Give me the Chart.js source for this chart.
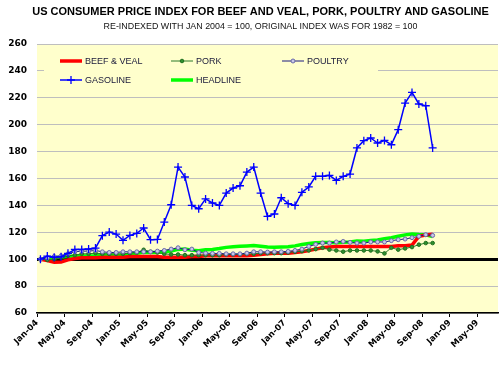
<!DOCTYPE html>
<html>
<head>
<meta charset="utf-8">
<script src="https://cdn.jsdelivr.net/npm/chart.js@4.4.0/dist/chart.umd.min.js"></script>
<style>
  body { margin: 0; background: #fff; }
  #chart { display: block; }
</style>
</head>
<body>
<canvas id="chart" width="504" height="365"></canvas>
<script>
const chartTitle = 'US CONSUMER PRICE INDEX FOR BEEF AND VEAL, PORK, POULTRY AND GASOLINE'
const chartSubtitle = 'RE-INDEXED WITH JAN 2004 = 100, ORIGINAL INDEX WAS FOR 1982 = 100'

// axis months, Jan-04 .. Aug-09
const monthNames = ['Jan', 'Feb', 'Mar', 'Apr', 'May', 'Jun', 'Jul', 'Aug', 'Sep', 'Oct', 'Nov', 'Dec']
const axisMonths = []
for (let i = 0; i < 68; i++) {
  axisMonths.push(monthNames[i % 12] + '-' + String(4 + Math.floor(i / 12)).padStart(2, '0'))
}

// monthly series Jan-04 .. Oct-08, Jan 2004 = 100
const beefVeal = [
  100, 99, 97.8, 98, 99.5, 100.5, 101, 101, 101, 101.5, 101.5, 101.5,
  101.5, 102, 102, 102, 102, 102, 101.5, 101.5, 101.5, 101.5, 102, 102,
  102.5, 102.5, 102.5, 102.5, 102.5, 102.5, 102.5, 103, 103.5, 104, 104.5, 104.5,
  104.5, 105, 105.5, 106.5, 107.5, 108.5, 109, 109.5, 109.5, 109.5, 109.5, 109.5,
  109.5, 109.5, 109.5, 109.5, 110, 110, 110.5, 117, 118, 118.5
]
const pork = [
  100, 99.5, 100, 101, 102.5, 103, 104, 104, 104.5, 104, 104, 104,
  104, 104.5, 105, 107, 105.5, 105, 104, 103.5, 103.5, 103, 103, 103,
  103, 103, 103, 103.5, 103.5, 103.5, 104, 104, 104.5, 104.5, 104.5, 104.5,
  105, 105.5, 106, 106.5, 107.5, 108.5, 107.1, 106.5, 105.6, 106.5, 106.5, 106.5,
  106.5, 105.8, 104.3, 108.5, 107.1, 108, 109, 110.8, 112, 112
]
const poultry = [
  100, 101, 102, 102.5, 104, 105.5, 106, 106, 106.5, 105.5, 105, 105,
  105.5, 105.5, 105.5, 105.5, 105.5, 106, 106.5, 107.5, 108.5, 107, 107.5, 105,
  104.5, 104.3, 104.3, 104, 104, 104, 104.5, 105.5, 105.5, 105.3, 105.5, 105.5,
  105.8, 106.5, 107.5, 109.5, 111, 112, 112, 112.8, 113.2, 112.5, 112, 112,
  112.8, 112.8, 112.8, 113.8, 114.5, 115, 116, 117, 118.2, 117.7
]
const gasoline = [
  100, 102.3, 101.5, 101.8, 104.4, 107.3, 107.3, 107.6, 108.3, 117.5, 120.2, 118.7,
  114, 117.7, 119.2, 123.2, 114.5, 114.7, 127.6, 140.5, 168.5, 161.1, 140, 137.5,
  144.8, 141.8, 140, 149.2, 152.9, 154.6, 164.8, 168.5, 149.2, 131.8, 133.6, 145.7,
  141.3, 140, 149.7, 153.7, 161.6, 161.6, 162.3, 158.6, 161.6, 163.3, 182.7, 188.1,
  190.1, 186.4, 188.3, 185.1, 196.3, 216.1, 224, 215.4, 214.1, 182.7
]
const headline = [
  100, 100.5, 101.2, 101.5, 102.1, 102.4, 102.3, 102.3, 102.5, 103.1, 103.1, 102.8,
  103, 103.6, 104.4, 105.1, 105, 105, 105.5, 106, 107.3, 107.6, 106.7, 106.3,
  107.1, 107.3, 107.9, 108.8, 109.3, 109.6, 109.9, 110.1, 109.6, 109, 108.8, 109,
  109.3, 109.9, 110.9, 111.6, 112.3, 112.5, 112.5, 112.3, 112.6, 112.8, 113.5, 113.4,
  114, 114.3, 115.3, 116, 117, 118.1, 118.8, 118.3, 118.1, 116.9
]
const yTicks = [60, 80, 100, 120, 140, 160, 180, 200, 220, 240, 260]

// each value sits in the middle of its month
const toPoints = arr => arr.map((v, i) => ({ x: i + 0.5, y: v }))

const plotBg = {
  id: 'plotBg',
  beforeDraw(chart) {
    const { ctx, chartArea: a } = chart
    ctx.save()
    ctx.fillStyle = '#FFFFCC'
    ctx.fillRect(a.left, a.top, a.right - a.left, a.bottom - a.top)
    ctx.restore()
  }
}

// titles drawn by hand: they are centred a bit right of the canvas middle
const titles = {
  id: 'titles',
  afterDraw(chart) {
    const ctx = chart.ctx
    ctx.save()
    ctx.textAlign = 'center'
    ctx.textBaseline = 'middle'
    ctx.fillStyle = '#000'
    ctx.font = 'bold 11px "Liberation Sans", Arial, sans-serif'
    ctx.fillText(chartTitle, 260.5, 12)
    ctx.fillStyle = '#111'
    ctx.font = '8.9px "Liberation Sans", Arial, sans-serif'
    ctx.fillText(chartSubtitle, 260.5, 27)
    ctx.restore()
  }
}

// legend sits inside the plot, 3 columns x 2 rows
const innerLegend = {
  id: 'innerLegend',
  afterDatasetsDraw(chart) {
    const { ctx, chartArea: a } = chart
    ctx.save()
    ctx.fillStyle = '#FFFFCC'
    ctx.fillRect(a.left + 7, a.top + 6, 334, 41)
    ctx.font = '9px "Liberation Sans", Arial, sans-serif'
    ctx.textBaseline = 'middle'
    chart.data.datasets.forEach((ds, i) => {
      const lx = a.left + 23 + (i % 3) * 111
      const ly = a.top + 17 + Math.floor(i / 3) * 19
      ctx.strokeStyle = ds.borderColor
      ctx.lineWidth = ds.borderWidth
      ctx.beginPath()
      ctx.moveTo(lx, ly)
      ctx.lineTo(lx + 22, ly)
      ctx.stroke()
      if (ds.pointRadius > 0) {
        ctx.fillStyle = ds.pointBackgroundColor
        ctx.strokeStyle = ds.pointBorderColor
        ctx.lineWidth = ds.pointBorderWidth
        Chart.helpers.drawPoint(ctx, { pointStyle: ds.pointStyle, radius: ds.pointRadius, borderWidth: ds.pointBorderWidth, rotation: 0 }, lx + 11, ly)
      }
      ctx.fillStyle = '#1a1a3a'
      ctx.fillText(ds.label, lx + 25, ly + 0.5)
    })
    ctx.restore()
  }
}

new Chart(document.getElementById('chart'), {
  type: 'line',
  data: {
    datasets: [
      { label: 'BEEF & VEAL', data: toPoints(beefVeal), borderColor: '#FF0000', borderWidth: 3.5, pointRadius: 0, order: 3 },
      { label: 'PORK', data: toPoints(pork), borderColor: '#2a7a2a', borderWidth: 1, pointStyle: 'circle', pointRadius: 1.8,
        pointBackgroundColor: '#2f8f2f', pointBorderColor: '#1f6f1f', pointBorderWidth: 1, order: 2 },
      { label: 'POULTRY', data: toPoints(poultry), borderColor: '#1a1a80', borderWidth: 1, pointStyle: 'circle', pointRadius: 2,
        pointBackgroundColor: '#c8c8e8', pointBorderColor: '#6a6aa8', pointBorderWidth: 1, order: 1 },
      { label: 'GASOLINE', data: toPoints(gasoline), borderColor: '#0000FF', borderWidth: 1.5, pointStyle: 'cross', pointRadius: 4,
        pointBackgroundColor: '#0000FF', pointBorderColor: '#0000FF', pointBorderWidth: 1.3, order: 0 },
      { label: 'HEADLINE', data: toPoints(headline), borderColor: '#00FF00', borderWidth: 3.5, pointRadius: 0, order: 4 }
    ]
  },
  options: {
    responsive: false,
    animation: false,
    devicePixelRatio: 1,
    layout: { padding: { left: 4, right: 6, top: 44, bottom: 0 } },
    plugins: {
      legend: { display: false },
      tooltip: { enabled: false },
      title: { display: false }
    },
    elements: { line: { tension: 0 } },
    scales: {
      x: {
        type: 'linear',
        min: 0,
        max: 67,
        afterFit: s => { s.height = 52 },
        border: { display: true, color: '#000', width: 1.5 },
        grid: { drawOnChartArea: false, drawTicks: true, tickLength: 4, color: '#000' },
        ticks: {
          stepSize: 4,
          includeBounds: false,
          autoSkip: false,
          minRotation: 45,
          maxRotation: 45,
          padding: 1,
          color: '#000',
          font: { family: '"DejaVu Sans", sans-serif', size: 8.5, weight: 'bold' },
          callback: v => axisMonths[v]
        }
      },
      y: {
        min: yTicks[0],
        max: yTicks[yTicks.length - 1],
        afterFit: s => { s.width = 33 },
        afterBuildTicks: s => { s.ticks = yTicks.map(v => ({ value: v })) },
        border: { display: false },
        grid: {
          drawTicks: false,
          color: c => c.tick && c.tick.value === 100 ? '#000' : '#BEBEBE',
          lineWidth: c => c.tick && c.tick.value === 100 ? 3 : 1
        },
        ticks: {
          padding: 10,
          color: '#000',
          font: { family: '"DejaVu Sans", sans-serif', size: 9, weight: 'bold' }
        }
      }
    }
  },
  plugins: [plotBg, titles, innerLegend]
})
</script>
</body>
</html>
